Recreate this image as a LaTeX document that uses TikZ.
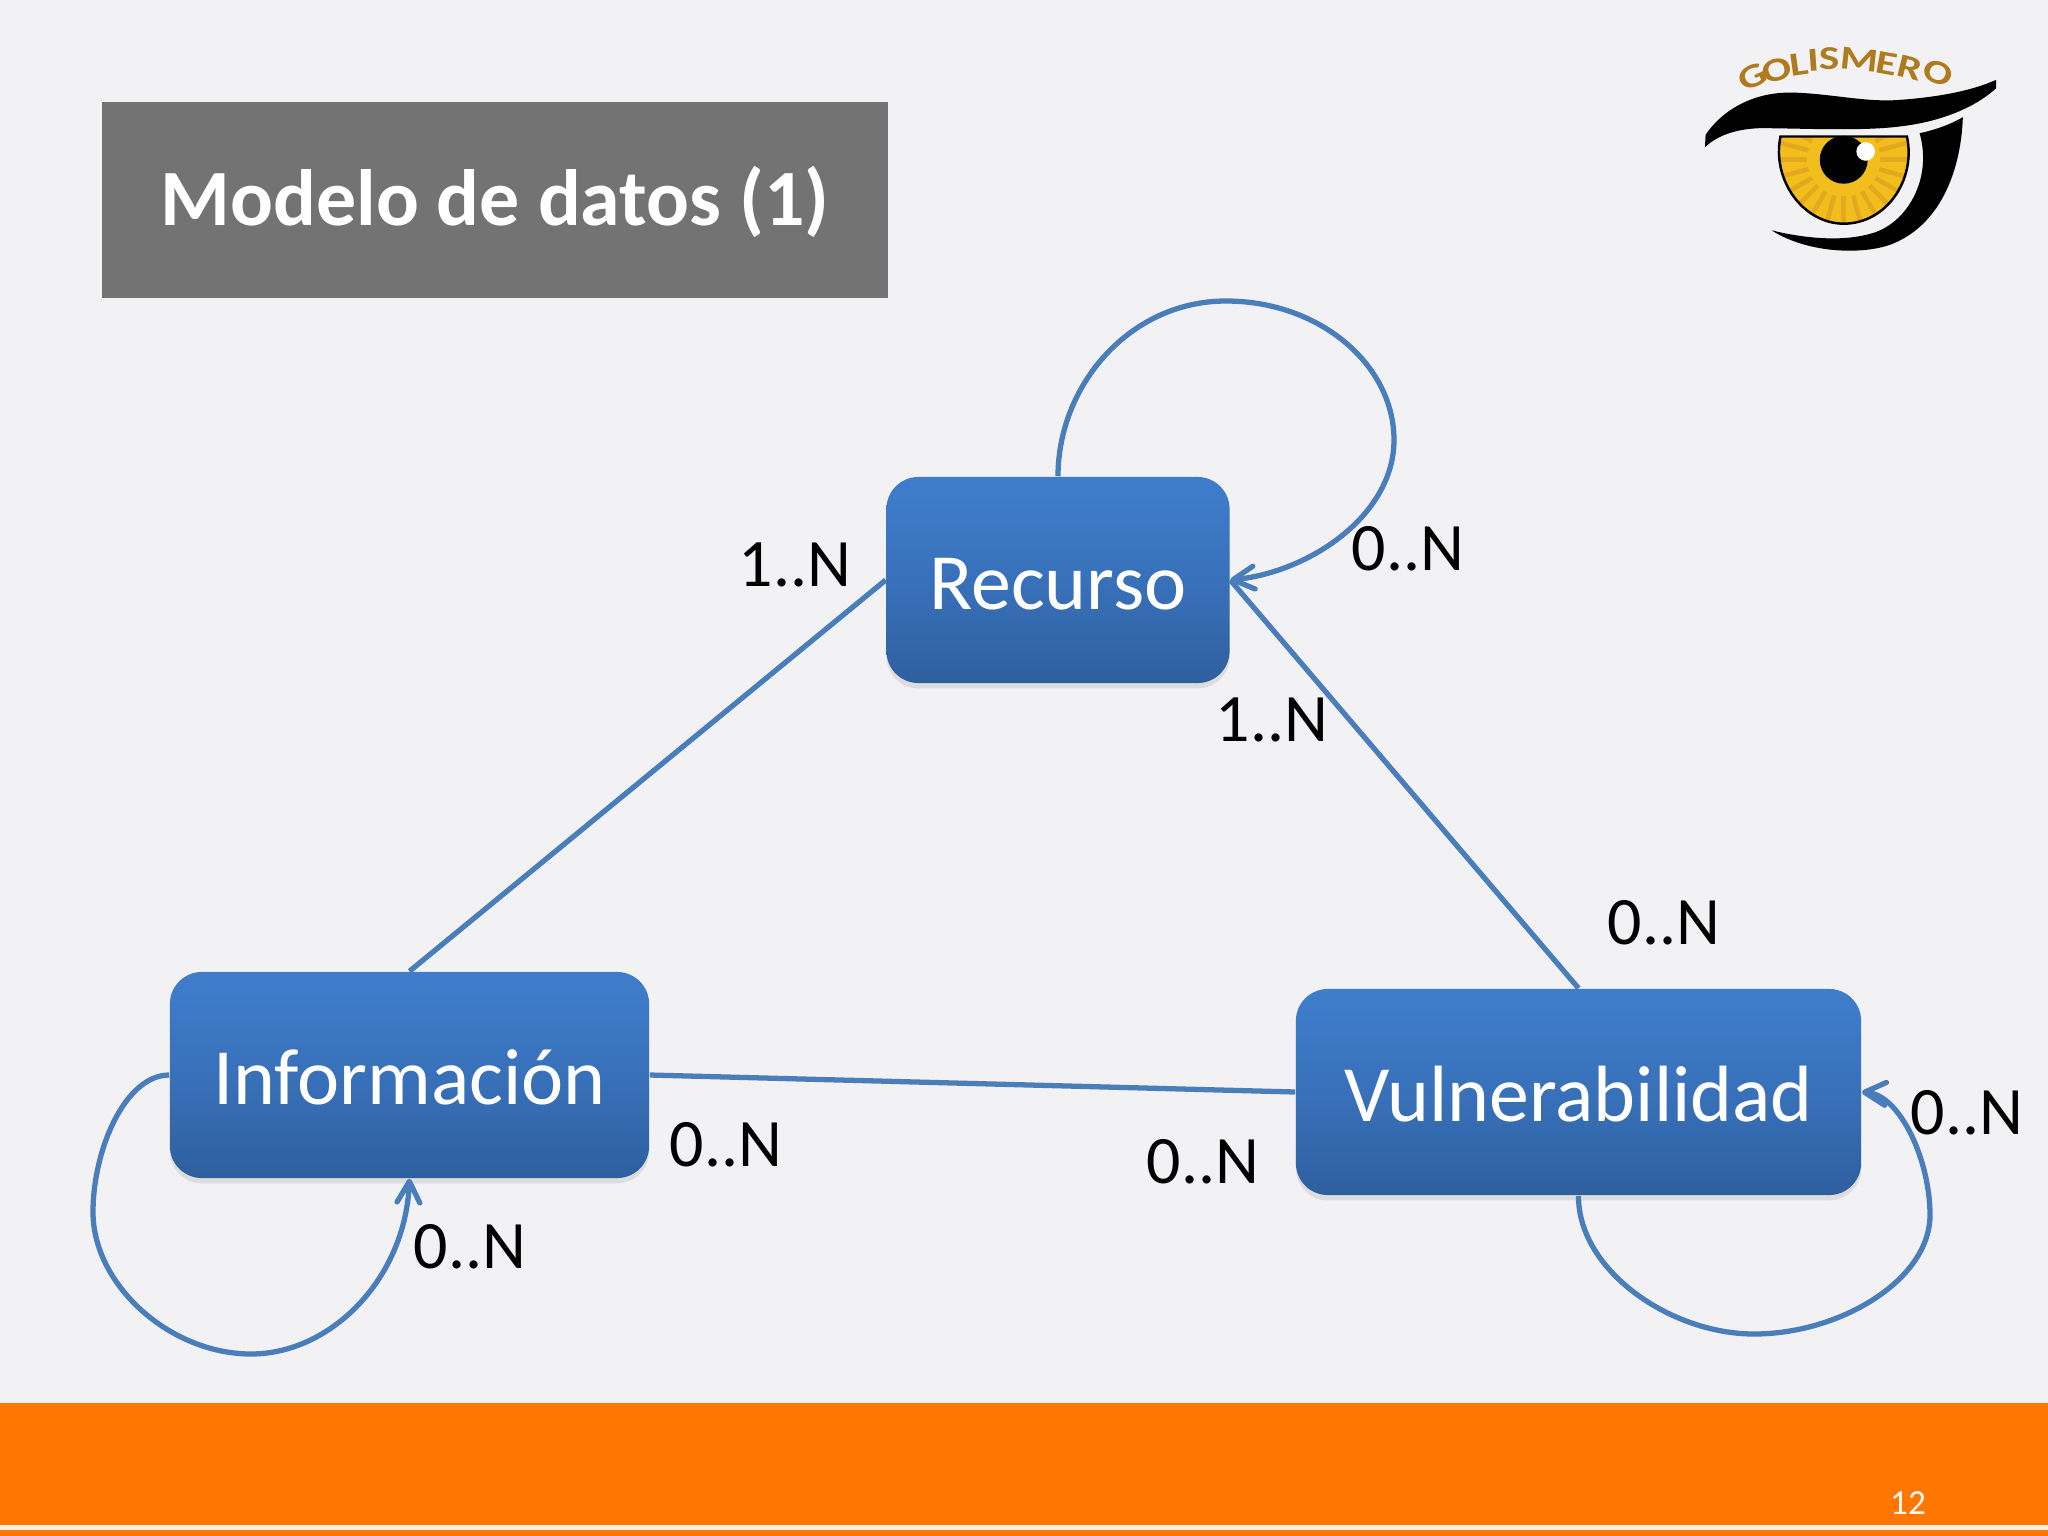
\documentclass[tikz,border=0pt]{standalone}
\usepackage{fontspec}
\setmainfont{Carlito}
\usetikzlibrary{arrows.meta,shadows}
\definecolor{slidebg}{HTML}{F2F2F4}
\definecolor{titlegray}{HTML}{737373}
\definecolor{bandorange}{HTML}{FF7600}
\definecolor{boxtop}{HTML}{3F7DCC}
\definecolor{boxbot}{HTML}{2E5F9F}
\definecolor{linkblue}{HTML}{4A7EBB}
\definecolor{iris}{HTML}{F2BE1E}
\definecolor{irisray}{HTML}{DB9C1E}
\definecolor{logobrown}{HTML}{B07A1E}
\tikzset{
	box/.style={rounded corners=0.32cm,top color=boxtop,bottom color=boxbot,middle color=boxtop!60!boxbot,text=white,
		font=\fontsize{22.7}{26}\selectfont,text height=16.6pt,text depth=0pt,
		drop shadow={shadow xshift=0pt,shadow yshift=-1.5pt,opacity=.18}},
	link/.style={linkblue,line width=1.5pt},
	linkarrow/.style={link,-{Straight Barb[length=6pt,width=6.5pt,line width=1.5pt,round]}},
	card/.style={text=black,font=\fontsize{19.3}{23}\selectfont},
	logoletter/.style={text=logobrown,inner sep=0pt,font=\bfseries\fontsize{9.5}{11}\selectfont}
}
\begin{document}
\begin{tikzpicture}[x=0.01cm,y=-0.01cm]
		\fill[slidebg] (0,0) rectangle (2048,1536);
		\useasboundingbox (0,0) rectangle (2048,1536);
		\fill[bandorange] (0,1403) rectangle (2048,1536);
		\fill[white!90!bandorange] (0,1525) rectangle (2048,1530);
		\node[text=white!95!bandorange,font=\fontsize{10}{12}\selectfont] (pagenum) at (1908,1503) {12};

		\node[fill=titlegray,minimum width=7.86cm,minimum height=1.96cm,text=white,text height=14.6pt,text depth=0pt,font=\bfseries\fontsize{22.7}{27}\selectfont] (title) at (495,200) {Modelo de datos (1)};

		\node[box,minimum width=3.43cm,minimum height=2.06cm] (recurso) at (1058,580) {Recurso};
		\node[box,minimum width=4.79cm,minimum height=2.06cm] (info) at (409.5,1075) {Información};
		\node[box,minimum width=5.65cm,minimum height=2.06cm] (vuln) at (1578.5,1092) {Vulnerabilidad};

		\draw[link] (recurso.west) -- (info.north);
		\draw[link] (recurso.east) -- (vuln.north);
		\draw[link] (info.east) -- (vuln.west);

		\draw[linkarrow] (recurso.north) .. controls (1058,385) and (1130,301) .. (1226,301)
			.. controls (1320,301) and (1394,365) .. (1394,440)
			.. controls (1394,515) and (1310,572) .. (recurso.east);
		\draw[linkarrow] (info.west) .. controls (125,1075) and (93,1150) .. (93,1212)
			.. controls (93,1285) and (170,1354) .. (251,1354)
			.. controls (330,1354) and (405,1280) .. (info.south);
		\draw[linkarrow] (vuln.south) .. controls (1578,1270) and (1670,1334) .. (1754,1334)
			.. controls (1840,1334) and (1930,1280) .. (1930,1215)
			.. controls (1930,1160) and (1900,1095) .. (vuln.east);

		\node[card] (lab1) at (795,565) {1..N};
		\node[card] (lab2) at (1408,549) {0..N};
		\node[card] (lab3) at (1272,720) {1..N};
		\node[card] (lab4) at (1664,923) {0..N};
		\node[card] (lab5) at (1967,1113) {0..N};
		\node[card] (lab6) at (1203,1162) {0..N};
		\node[card] (lab7) at (726,1145) {0..N};
		\node[card] (lab8) at (470,1247) {0..N};

		\begin{scope}[shift={(1660,20)},x=0.003333cm,y=-0.003333cm]
			\fill[black] (135,382) -- (137,345) .. controls (180,280) and (270,215) .. (400,218)
				.. controls (520,222) and (620,248) .. (720,240)
				.. controls (830,232) and (930,215) .. (1010,180) -- (1010,205)
				.. controls (950,260) and (850,305) .. (720,320)
				.. controls (600,335) and (420,325) .. (300,325)
				.. controls (220,328) and (170,350) .. (135,382) -- cycle;
			\fill[black] (910,292) .. controls (905,440) and (850,610) .. (700,672)
				.. controls (620,705) and (450,705) .. (335,632)
				.. controls (450,660) and (560,665) .. (640,640)
				.. controls (740,610) and (820,480) .. (780,340)
				.. controls (830,330) and (880,310) .. (910,292) -- cycle;
			\begin{scope}
				\clip (362,350) -- (742,350) .. controls (770,480) and (680,612) .. (552,612)
					.. controls (430,612) and (335,480) .. (362,350) -- cycle;
				\fill[iris] (300,340) rectangle (800,620);
				\foreach \ang in {0,15,...,345}
					\draw[irisray!65!iris,line width=1.3pt] (552,420) ++(\ang:110) -- ++(\ang:90);
			\end{scope}
			\draw[black,line width=0.7pt] (362,350) -- (742,350) .. controls (770,480) and (680,612) .. (552,612)
				.. controls (430,612) and (335,480) .. (362,350) -- cycle;
			\fill[black] (552,420) circle (72);
			\fill[white] (618,395) circle (28);
			\foreach \ch/\lx/\ly/\rot [count=\i] in {G/278/170/25,O/350/150/15,L/417/135/8,I/460/122/4,S/508/115/0,M/598/118/-6,E/680/130/-10,R/752/145/-14,O/836/158/-22}
				\node[logoletter,rotate=\rot] (logo\i) at (\lx,\ly) {\scalebox{1.3}[1]{\ch}};
		\end{scope}
	\end{tikzpicture}
\end{document}
